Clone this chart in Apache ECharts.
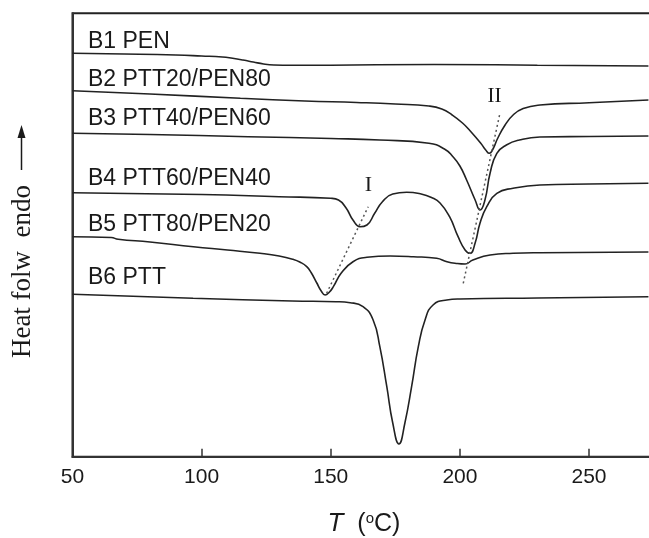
<!DOCTYPE html>
<html><head><meta charset="utf-8">
<script src="https://cdn.jsdelivr.net/npm/echarts@6/dist/echarts.min.js"></script>
<style>html,body{margin:0;padding:0;background:#fff}#c{width:649px;height:538px}</style>
</head><body><div id="c"></div>
<script>
// Temperatures (°C) and heat-flow readings (arbitrary units) for each curve
const b1T = [50,70,90,100,108,112,116,120,124,128,135,150,190,230,273];
const b1V = [403.4,402.7,401.7,400.7,399.7,398.4,396.7,394.7,392.7,391.7,391.4,391.5,392.2,391.5,390.7];

const b2T = [50,80,115,140,160,175,188,193,197,201,204,208,210,211.4,213,214.5,217.5,220.6,224.5,231,250,273];
const b2V = [366.0,362.7,358.4,355.7,354.2,352.7,350.7,347.7,341.7,333.7,325.7,313.7,306.7,303.4,308.7,317.7,331.7,341.7,348.2,351.7,354.0,356.7];

const b3T = [50,80,118,150,169,188,194,197.3,200,202.6,205.9,207.8,209.7,211.7,214.3,218,223,231,250,273];
const b3V = [323.4,322.2,320.0,318.2,316.7,313.4,307.7,300.0,290.7,276.7,256.7,246.7,256.7,283.7,303.4,311.7,316.7,319.7,320.2,320.7];

const b4T = [50,100,130,150,153,156,158.6,161.3,164,167,170,174,179.4,185,189,192.3,196,199.3,202,203.9,205.9,207.8,210.4,214.3,220.6,231,250,273];
const b4V = [264.0,262.2,260.0,258.4,256.7,248.4,236.7,230.0,231.7,243.4,255.0,262.7,264.4,262.7,259.2,253.7,240.0,220.0,206.7,203.4,213.7,233.7,250.0,263.4,268.4,271.7,272.7,273.4];

const b5T = [50,65,67.7,80,96.8,110,122.6,130,135.4,138,140.7,142.5,144.6,146.3,147.8,149.5,151,154,158.6,164,173,182,191,195,199,202,205,211.7,220.6,231,273];
const b5V = [220.0,219.2,217.4,214.7,210.0,206.7,203.4,200.7,197.4,194.7,190.0,183.7,173.7,165.7,161.7,164.7,170.0,183.4,195.0,199.4,200.7,200.0,198.4,195.0,193.2,192.7,196.7,201.7,203.4,204.0,204.7];

const b6T = [50,96.7,135,152,157.5,162.5,166.4,169,171.7,174,176.4,178.7,181.3,183.9,186.5,189.6,194.9,200,230,273];
const b6V = [162.4,158.4,155.7,155.0,154.0,150.0,136.7,110.0,70.0,33.7,12.7,33.7,70.0,110.0,136.7,151.7,156.7,157.7,158.7,160.0];

// Guide lines through the peak minima
const guideIT = [148.4,164.5];
const guideIV = [163.4,250.0];
const guideIIT = [201.3,215.5];
const guideIIV = [173.4,343.4];

const curveNames = ['B1 PEN','B2 PTT20/PEN80','B3 PTT40/PEN60','B4 PTT60/PEN40','B5 PTT80/PEN20','B6 PTT'];
const xTicks = [50,100,150,200,250];

const zip = (a,b) => a.map((t,i) => [t,b[i]]);
const curves = [[b1T,b1V],[b2T,b2V],[b3T,b3V],[b4T,b4V],[b5T,b5V],[b6T,b6V]];

const SANS = '"Liberation Sans", Arial, sans-serif';
const SERIF = '"Liberation Serif", "Times New Roman", serif';

const series = curves.map((c,i) => ({
  name: curveNames[i], type: 'line', data: zip(c[0],c[1]),
  showSymbol: false, smooth: 0.5,
  lineStyle: {color: '#222', width: 1.6}, silent: true
}));
series.push({type:'line', data: zip(guideIT,guideIV), showSymbol:false,
  lineStyle:{color:'#555', width:1.5, type:[2,3]}, silent:true});
series.push({type:'line', data: zip(guideIIT,guideIIV), showSymbol:false,
  lineStyle:{color:'#555', width:1.5, type:[2,3]}, silent:true});

const labelY = [41.7,80,119,178.5,225,278];
const graphics = curveNames.map((n,i) => ({
  type:'text', x: 88, y: labelY[i],
  style:{text:n, font:'23px ' + SANS, fill:'#1a1a1a', textVerticalAlign:'middle', textAlign:'left'}
}));
graphics.push({type:'text', x:368.5, y:185.5, style:{text:'I', font:'22px '+SERIF, fill:'#1a1a1a', textAlign:'center', textVerticalAlign:'middle'}});
graphics.push({type:'text', x:494.5, y:96.5, style:{text:'II', font:'21px '+SERIF, fill:'#1a1a1a', textAlign:'center', textVerticalAlign:'middle'}});
graphics.push({type:'text', x:23, y:271.5, rotation: Math.PI/2,
  style:{text:'Heat folw  endo', font:'27px '+SERIF, fill:'#1a1a1a', textAlign:'center', textVerticalAlign:'middle'}});
graphics.push({type:'line', shape:{x1:21.5,y1:170,x2:21.5,y2:134}, style:{stroke:'#1a1a1a', lineWidth:1.5}});
graphics.push({type:'polygon', shape:{points:[[21.5,125],[17.5,138],[25.5,138]]}, style:{fill:'#1a1a1a'}});
graphics.push({type:'text', x:364, y:524,
  style:{text:'{it|T}  ({sup|o}C)', textAlign:'center', textVerticalAlign:'middle',
    font:'25px '+SANS, fill:'#1a1a1a',
    rich:{it:{fontStyle:'italic', fontSize:26, fontFamily:SANS, fill:'#1a1a1a'},
          sup:{fontSize:15, fontFamily:SANS, verticalAlign:'top', fill:'#1a1a1a'}}}});

const chart = echarts.init(document.getElementById('c'), null, {renderer:'canvas'});
chart.setOption({
  animation:false,
  backgroundColor:'#fff',
  grid:{left:72.5, top:13.3, right:-4.6, bottom:81.3, show:true, borderColor:'#222', borderWidth:2,
    backgroundColor:'transparent', outerBoundsMode:'none', containLabel:false},
  xAxis:{type:'value', min:50, max:275, interval:50,
    axisLine:{show:true, onZero:false, lineStyle:{color:'#333', width:2}},
    axisTick:{show:true, inside:true, length:8, lineStyle:{color:'#333', width:1.5}},
    axisLabel:{fontSize:21, fontFamily:SANS, color:'#1a1a1a', margin:10,
      formatter: v => xTicks.includes(v) ? String(v) : ''},
    splitLine:{show:false}},
  yAxis:{type:'value', min:0, max:443.4,
    axisLine:{show:true, onZero:false, lineStyle:{color:'#333', width:2}},
    axisTick:{show:false}, axisLabel:{show:false}, splitLine:{show:false}},
  series: series,
  graphic: graphics
});
</script></body></html>
